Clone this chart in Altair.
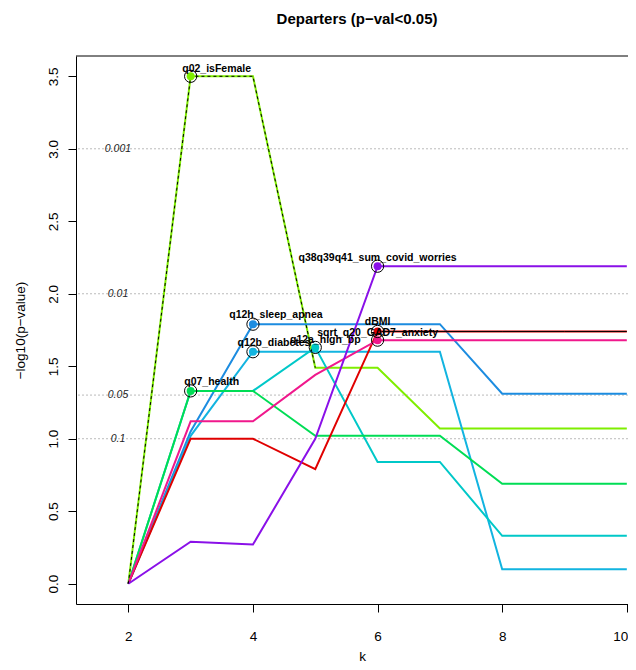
import altair as alt
import pandas as pd
import numpy as np

# ---------------- data ----------------
k_values = [2, 3, 4, 5, 6, 7, 8, 9, 10]

series_names = [
    "q02_isFemale",
    "q12h_sleep_apnea",
    "q12b_diabetes",
    "q12a_high_bp",
    "q07_health",
    "dBMI",
    "sqrt_q20_GAD7_anxiety",
    "q38q39q41_sum_covid_worries",
]

q02_isFemale = [0.0, 3.50, 3.50, 1.49, 1.49, 1.07, 1.07, 1.07, 1.07]
q12h_sleep_apnea = [0.0, 1.05, 1.79, 1.79, 1.79, 1.79, 1.31, 1.31, 1.31]
q12b_diabetes = [0.0, 1.02, 1.60, 1.60, 1.60, 1.60, 0.10, 0.10, 0.10]
q12a_high_bp = [0.0, 1.33, 1.33, 1.63, 0.84, 0.84, 0.33, 0.33, 0.33]
q07_health = [0.0, 1.33, 1.33, 1.02, 1.02, 1.02, 0.69, 0.69, 0.69]
dBMI = [0.0, 1.00, 1.00, 0.79, 1.74, 1.74, 1.74, 1.74, 1.74]
sqrt_q20_GAD7_anxiety = [0.0, 1.12, 1.12, 1.44, 1.68, 1.68, 1.68, 1.68, 1.68]
q38q39q41_sum_covid_worries = [0.0, 0.29, 0.27, 1.00, 2.19, 2.19, 2.19, 2.19, 2.19]

series_values = [
    q02_isFemale, q12h_sleep_apnea, q12b_diabetes, q12a_high_bp,
    q07_health, dBMI, sqrt_q20_GAD7_anxiety, q38q39q41_sum_covid_worries,
]

# k at which each variable becomes a departer (labelled point)
depart_k = [3, 4, 4, 5, 3, 6, 6, 6]

p_thresholds = [0.001, 0.01, 0.05, 0.1]
p_labels = ["0.001", "0.01", "0.05", "0.1"]

y_ticks = [0.0, 0.5, 1.0, 1.5, 2.0, 2.5, 3.0, 3.5]
x_ticks = [2, 4, 6, 8, 10]

# ---------------- style ----------------
series_colors = ["#7FEE00", "#1C8CE0", "#12B4E0", "#00C8C8",
                 "#00DD55", "#E00000", "#F0188C", "#8A10E8"]
label_dx = [26, 23, 21, 10, 21, 0, 0, 0]
label_dy = [-4, -6, -6, -4, -6, -6, -4, -5]
FONT = "Liberation Sans"
W, H = 572, 548

# ---------------- tables ----------------
rows = []
for name, vals in zip(series_names, series_values):
    for kk, v in zip(k_values, vals):
        rows.append({"series": name, "k": kk, "v": v})
df = pd.DataFrame(rows)

pts = pd.DataFrame({
    "series": series_names,
    "k": depart_k,
    "v": [vals[k_values.index(kk)] for vals, kk in zip(series_values, depart_k)],
})

th = pd.DataFrame({"y": -np.log10(p_thresholds), "lab": p_labels})

xscale = alt.Scale(domain=[1.16, 10.34], nice=False, zero=False)
yscale = alt.Scale(domain=[-0.14, 3.64], nice=False, zero=False)
cscale = alt.Scale(domain=series_names, range=series_colors)

x_axis = alt.Axis(values=x_ticks, format="d", title="k", tickSize=8,
                  labelPadding=17, labelFontSize=13.5, titleFontSize=13.5,
                  titleFontWeight="normal", titleX=286, titleY=52,
                  titleBaseline="middle", labelFlush=False, grid=False,
                  labelAlign={"condition": {"test": "datum.value == 10", "value": "right"},
                              "value": "center"},
                  labelOffset={"condition": {"test": "datum.value == 10", "value": 1},
                               "value": 0})
y_axis = alt.Axis(values=y_ticks, format=".1f", title="\u2212log10(p\u2212value)",
                  tickSize=8, labelPadding=8, labelAngle=270, labelAlign="center",
                  labelBaseline="bottom", labelFontSize=13.5, titleFontSize=13.5,
                  titleFontWeight="normal", titleAngle=270, titleX=-56, titleY=274,
                  titleAlign="center", titleBaseline="middle", labelFlush=False,
                  grid=False)

rules = alt.Chart(th).mark_rule(color="#BBBBBB", strokeDash=[2, 2], strokeWidth=1).encode(
    y=alt.Y("y:Q", scale=yscale, axis=y_axis),
)
rule_text = alt.Chart(th).mark_text(fontStyle="italic", fontSize=10.5, font=FONT,
                                    color="#222222", align="center", baseline="middle").encode(
    x=alt.value(42),
    y=alt.Y("y:Q", scale=yscale),
    text="lab:N",
)

lines = alt.Chart(df).mark_line(strokeWidth=2).encode(
    x=alt.X("k:Q", scale=xscale, axis=x_axis),
    y=alt.Y("v:Q", scale=yscale),
    color=alt.Color("series:N", scale=cscale, legend=None),
)

dash_overlay = alt.Chart(df[(df.series == "q02_isFemale") & (df.k <= 5)]).mark_line(
    color="black", strokeDash=[3, 3], strokeWidth=1).encode(
    x=alt.X("k:Q", scale=xscale), y=alt.Y("v:Q", scale=yscale))
dbmi_overlay = alt.Chart(df[(df.series == "dBMI") & (df.k >= 6)]).mark_line(
    color="black", strokeWidth=1).encode(
    x=alt.X("k:Q", scale=xscale), y=alt.Y("v:Q", scale=yscale))

dots = alt.Chart(pts).mark_circle(size=64, opacity=1).encode(
    x=alt.X("k:Q", scale=xscale), y=alt.Y("v:Q", scale=yscale),
    color=alt.Color("series:N", scale=cscale, legend=None))
rings = alt.Chart(pts).mark_point(shape="circle", size=150, color="black",
                                  strokeWidth=1, filled=False, opacity=1).encode(
    x=alt.X("k:Q", scale=xscale), y=alt.Y("v:Q", scale=yscale))

label_layers = []
for i, name in enumerate(series_names):
    label_layers.append(
        alt.Chart(pts[pts.series == name]).mark_text(
            fontSize=10.5, fontWeight="bold", font=FONT, color="black",
            align="center", baseline="alphabetic", dx=label_dx[i], dy=label_dy[i]).encode(
            x=alt.X("k:Q", scale=xscale), y=alt.Y("v:Q", scale=yscale), text="series:N")
    )

top_border = alt.Chart(th.head(1)).mark_rule(color="black", strokeWidth=1).encode(
    x=alt.value(0), x2=alt.value(W), y=alt.value(0))

chart = alt.layer(
    rules, rule_text, lines, dash_overlay, dbmi_overlay, dots, rings,
    *label_layers, top_border,
).properties(
    width=W, height=H,
    padding={"left": 68, "top": 48, "right": -20, "bottom": 58},
    autosize=alt.AutoSizeParams(type="none"),
    title=alt.TitleParams("Departers (p\u2212val<0.05)", fontSize=15, fontWeight="bold",
                          font=FONT, anchor="middle", frame="group", dx=-5,
                          offset=29, color="black"),
).configure_view(stroke=None).configure_axis(
    domainColor="black", tickColor="black", labelColor="black", titleColor="black",
    labelFont=FONT, titleFont=FONT, domainWidth=1, tickWidth=1,
)

chart.save("out.html", embed_options={"renderer": "svg", "actions": False})
